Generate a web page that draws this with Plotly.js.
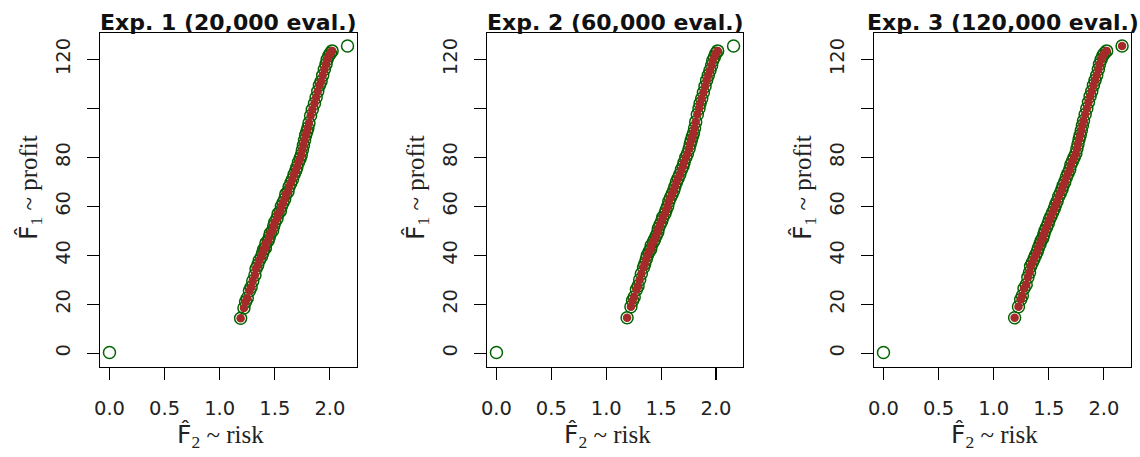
<!DOCTYPE html>
<html>
<head>
<meta charset="utf-8">
<script src="https://cdn.plot.ly/plotly-3.0.1.min.js"></script>
<style>html,body{margin:0;padding:0;background:#fff;}</style>
</head>
<body>
<div id="chart" style="width:1140px;height:457px;"></div>
<script>
// ---------- data ----------
const panelTitles = ["Exp. 1 (20,000 eval.)", "Exp. 2 (60,000 eval.)", "Exp. 3 (120,000 eval.)"];

const xTickVals = [0, 0.5, 1, 1.5, 2];
const xTickText = ["0.0", "0.5", "1.0", "1.5", "2.0"];
const yTickVals = [0, 20, 40, 60, 80, 120];
const yTickText = ["0", "20", "40", "60", "80", "120"];
const yUnlabelledTicks = [100];

// Exp. 1 front (risk, profit)
const frontX1 = [1.19,1.22,1.235,1.25,1.27,1.285,1.30,1.32,1.33,1.345,
  1.36,1.38,1.39,1.40,1.415,1.42,1.44,1.45,1.46,1.48,1.49,1.50,1.52,1.53,1.55,1.56,1.575,1.59,1.60,1.62,
  1.63,1.645,1.66,1.675,1.69,1.70,1.715,1.73,1.74,1.75,1.76,1.77,1.78,1.79,1.80,1.81,
  1.825,1.84,1.86,1.875,1.89,1.905,1.92,1.935,1.95,1.965,1.975,1.99,2.005,2.02];
const frontY1 = [14.3,18.5,21.0,22.5,25.5,27.0,29.5,32.0,34.5,36.0,
  38.0,39.5,41.0,42.5,43.0,45.0,46.0,47.5,49.0,50.0,52.0,53.5,55.0,57.0,58.0,60.0,61.5,63.0,65.0,66.0,
  68.0,69.5,71.0,73.0,74.5,76.0,78.0,79.5,81.0,83.0,85.0,87.0,89.0,90.5,92.0,94.0,
  97.0,99.5,102.0,104.5,107.0,109.5,111.0,113.5,116.0,118.0,120.0,121.5,122.5,123.5];
const extraX1 = [0.0, 2.16];
const extraY1 = [0.3, 125.5];

// Exp. 2 front
const frontX2 = [1.19,1.225,1.24,1.255,1.275,1.29,1.305,1.32,1.34,1.35,
  1.365,1.375,1.39,1.405,1.41,1.43,1.44,1.455,1.47,1.475,1.49,1.505,1.515,1.535,1.545,1.56,1.57,1.585,1.60,1.615,
  1.625,1.64,1.655,1.67,1.685,1.70,1.71,1.725,1.74,1.755,1.765,1.775,1.785,1.795,1.805,1.815,
  1.83,1.845,1.855,1.87,1.885,1.90,1.915,1.93,1.945,1.96,1.97,1.985,2.0,2.015];
const frontY2 = [14.5,19.0,21.5,23.0,26.0,27.5,30.0,32.5,35.0,36.5,
  38.5,40.0,41.5,42.5,44.0,45.5,46.5,48.0,49.5,51.0,52.5,54.0,55.5,57.0,58.5,60.0,62.0,63.5,65.0,66.5,
  68.0,70.0,71.5,73.0,75.0,76.5,78.0,80.0,81.5,83.5,85.5,87.0,88.5,90.0,92.0,94.5,
  97.5,100.0,102.0,104.0,106.5,109.0,111.5,113.5,115.5,117.5,119.5,121.0,122.5,123.5];
const extraX2 = [0.0, 2.16];
const extraY2 = [0.3, 125.5];

// Exp. 3 front
const frontX3 = [1.19,1.225,1.245,1.26,1.275,1.295,1.31,1.325,1.335,1.35,
  1.365,1.38,1.395,1.405,1.42,1.43,1.445,1.455,1.465,1.48,1.495,1.505,1.52,1.535,1.55,1.56,1.575,1.59,1.605,1.62,
  1.63,1.645,1.66,1.675,1.69,1.70,1.715,1.73,1.745,1.755,1.765,1.775,1.785,1.795,1.805,1.815,
  1.83,1.845,1.86,1.875,1.89,1.905,1.92,1.935,1.95,1.96,1.975,1.99,2.005,2.025,2.165];
const frontY3 = [14.5,19.0,22.0,23.5,26.5,28.0,31.0,33.0,35.5,37.0,
  38.5,40.0,41.5,43.0,44.5,46.0,47.0,48.5,50.0,51.5,53.0,54.5,56.0,57.5,59.0,60.5,62.0,64.0,65.5,67.0,
  68.5,70.0,72.0,73.5,75.0,77.0,78.5,80.0,81.5,83.5,85.5,87.5,89.0,91.0,93.0,95.0,
  97.5,100.0,102.5,105.0,107.0,109.5,111.5,113.5,116.0,118.0,120.0,121.5,122.5,123.5,125.5];
const extraX3 = [0.0];
const extraY3 = [0.3];

// ---------- build ----------
const fronts = [[frontX1, frontY1, extraX1, extraY1],
                [frontX2, frontY2, extraX2, extraY2],
                [frontX3, frontY3, extraX3, extraY3]];

const W = 1140, H = 457;
const boxes = [[100, 357], [487, 743], [874, 1131]];
const boxTop = 33, boxBottom = 367;

const traces = [];
const layout = {
  width: W, height: H,
  margin: {l: 0, r: 0, t: 0, b: 0},
  paper_bgcolor: "#ffffff", plot_bgcolor: "#ffffff",
  showlegend: false,
  annotations: []
};

const tickFont = {family: "DejaVu Sans", size: 19.5, color: "#222"};

fronts.forEach((f, i) => {
  const n = i + 1;
  const xa = "x" + (n === 1 ? "" : n), ya = "y" + (n === 1 ? "" : n);
  traces.push({
    type: "scatter", mode: "markers", xaxis: xa, yaxis: ya,
    x: f[0].concat(f[2]), y: f[1].concat(f[3]),
    marker: {symbol: "circle-open", size: 12, color: "#006400", line: {width: 1.5, color: "#006400"}},
    hoverinfo: "x+y"
  });
  traces.push({
    type: "scatter", mode: "markers", xaxis: xa, yaxis: ya,
    x: f[0], y: f[1],
    marker: {symbol: "circle", size: 8.5, color: "#A52A2A"},
    hoverinfo: "x+y"
  });
  const [l, r] = boxes[i];
  const axCommon = {
    showgrid: false, zeroline: false, showline: true, mirror: true,
    linecolor: "#000", linewidth: 1.2,
    ticks: "outside", ticklen: 12, tickwidth: 1.2, tickcolor: "#000",
    tickfont: tickFont, fixedrange: true
  };
  layout["xaxis" + (n === 1 ? "" : n)] = Object.assign({}, axCommon, {
    domain: [l / W, r / W], anchor: ya, range: [-0.086, 2.246],
    tickmode: "array", tickvals: xTickVals, ticktext: xTickText,
    ticklabelstandoff: 11
  });
  layout["yaxis" + (n === 1 ? "" : n)] = Object.assign({}, axCommon, {
    domain: [(H - boxBottom) / H, (H - boxTop) / H], anchor: xa, range: [-5.6, 130.8],
    tickmode: "array", tickvals: yTickVals, ticktext: yTickText,
    minor: {tickmode: "array", tickvals: yUnlabelledTicks, ticks: "outside", ticklen: 12, tickwidth: 1.2, tickcolor: "#000", showgrid: false},
    tickangle: -90, ticklabelstandoff: 9
  });
  const cx = (l + r) / 2;
  layout.annotations.push({
    xref: "paper", yref: "paper", x: cx / W, y: 1 - 22 / H,
    xanchor: "center", yanchor: "middle", showarrow: false,
    text: "<b>" + panelTitles[i] + "</b>",
    font: {family: "DejaVu Sans", size: 22, color: "#111"}
  });
  layout.annotations.push({
    xref: "paper", yref: "paper", x: (cx - 8) / W, y: 1 - 436 / H,
    xanchor: "center", yanchor: "middle", showarrow: false,
    text: '<span style="font-family:DejaVu Sans">F\u0302</span><sub>2</sub> ~ risk',
    font: {family: "Liberation Serif", size: 25, color: "#222"}
  });
  layout.annotations.push({
    xref: "paper", yref: "paper", x: (l - 70) / W, y: 1 - 188 / H,
    xanchor: "center", yanchor: "middle", showarrow: false, textangle: -90,
    text: '<span style="font-family:DejaVu Sans">F\u0302</span><sub>1</sub> ~ profit',
    font: {family: "Liberation Serif", size: 25, color: "#222"}
  });
});

Plotly.newPlot("chart", traces, layout, {displayModeBar: false, staticPlot: true});
</script>
</body>
</html>
